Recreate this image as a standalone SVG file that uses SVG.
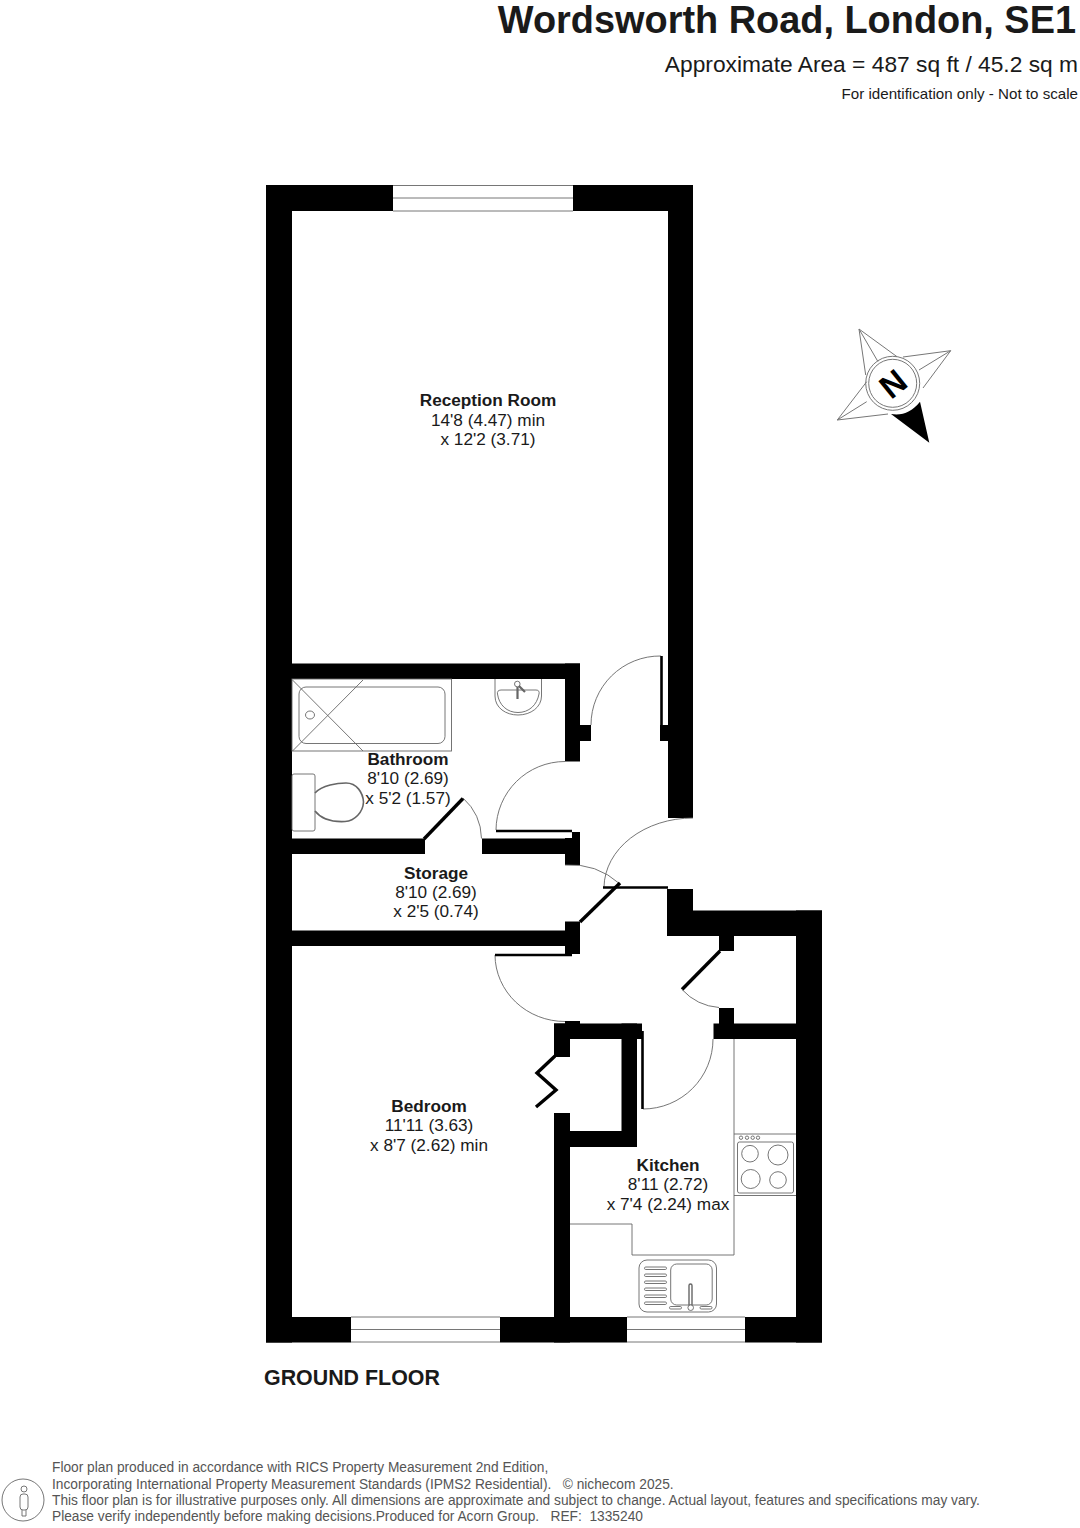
<svg xmlns="http://www.w3.org/2000/svg" width="1080" height="1528" viewBox="0 0 1080 1528">
<style>
text{font-family:"Liberation Sans",Arial,sans-serif;fill:#1a1a1a}
.l{font-size:17.2px;text-anchor:middle}
.b{font-weight:bold}
.f{font-size:13.74px;fill:#555;white-space:pre}
.t{fill:none;stroke:#666;stroke-width:0.9}
.d{fill:none;stroke:#000;stroke-width:2.6}
.j{fill:none;stroke:#000;stroke-width:3.4}
.w{fill:#000}
.g{fill:none;stroke:#777;stroke-width:1}
</style>
<rect width="1080" height="1528" fill="#fff"/>
<g id="header">
<text x="1076" y="32.500" text-anchor="end" class="b" style="font-size:37.9px">Wordsworth Road, London, SE1</text>
<text x="1078" y="72" text-anchor="end" style="font-size:22.77px">Approximate Area = 487 sq ft / 45.2 sq m</text>
<text x="1078" y="99" text-anchor="end" style="font-size:15.15px">For identification only - Not to scale</text>
</g>
<g id="walls" class="w">
<rect x="266" y="185" width="26" height="1157.500"/>
<rect x="266" y="185" width="127" height="26"/>
<rect x="573" y="185" width="120" height="26"/>
<rect x="668" y="185" width="25" height="633"/>
<rect x="292" y="663.500" width="288" height="15.500"/>
<rect x="565" y="663.500" width="15" height="98"/>
<rect x="565" y="725" width="26" height="16"/>
<rect x="660" y="725" width="8" height="16"/>
<rect x="572" y="832" width="8" height="6"/>
<rect x="292" y="838.500" width="133" height="15.500"/>
<rect x="482" y="838.500" width="98" height="15.500"/>
<rect x="565" y="838" width="15" height="27"/>
<rect x="292" y="930.500" width="288" height="15.500"/>
<rect x="565" y="921.500" width="15" height="32.500"/>
<rect x="667" y="889" width="26" height="47"/>
<rect x="667" y="910.500" width="155" height="25.500"/>
<rect x="796" y="910.500" width="26" height="432"/>
<rect x="719" y="936" width="15" height="15"/>
<rect x="719" y="1008" width="15" height="16"/>
<rect x="713.500" y="1023.500" width="83" height="15.500"/>
<rect x="554" y="1023.500" width="88" height="15.500"/>
<rect x="565" y="1021" width="15" height="3"/>
<rect x="554" y="1023.500" width="16" height="33.500"/>
<rect x="621.500" y="1023.500" width="15.500" height="123.500"/>
<rect x="554" y="1113" width="16" height="229.500"/>
<rect x="554" y="1131" width="83" height="16"/>
<rect x="266" y="1317" width="85" height="25.500"/>
<rect x="500" y="1317" width="127" height="25.500"/>
<rect x="745" y="1317" width="77" height="25.500"/>
</g>
<g id="windows" class="t">
<path d="M393 185.500H573M393 198H573M393 211H573"/>
<path d="M351 1317H500M351 1329.500H500M351 1342H500"/>
<path d="M627 1317H745M627 1329.500H745M627 1342H745"/>
</g>
<g id="doors">
<path class="t" d="M661 656A69 69 0 0 0 591 725"/>
<path class="d" d="M661.500 656V725"/>
<path class="t" d="M565 761.500A69 69 0 0 0 496 830"/>
<path class="d" d="M496 831H572"/>
<path class="t" d="M463 798A56 56 0 0 1 481.500 838.500"/>
<path class="j" d="M424 839L463 798.500"/>
<path class="t" d="M565 865A75 75 0 0 1 620 884"/>
<path class="j" d="M580 922L620 883"/>
<path class="t" d="M693 818A89 70 0 0 0 604 887"/>
<path class="d" d="M603 887.500H668"/>
<path class="j" d="M720 951L682 989.500"/>
<path class="t" d="M682 989.500A56 56 0 0 0 719 1007.500"/>
<path class="t" d="M495 955A70 67 0 0 0 565 1021.500"/>
<path class="d" d="M495 955H572"/>
<path class="t" d="M713 1039A70 70 0 0 1 643 1109"/>
<path class="d" d="M642.500 1031V1109"/>
<path class="j" d="M555 1056L537 1073L556 1090L536 1107"/>
</g>
<g id="bathroom-fixtures" class="t">
<rect x="292" y="679" width="159.500" height="72"/>
<rect x="299" y="687" width="146" height="56.500" rx="7"/>
<ellipse cx="310" cy="715" rx="4.500" ry="4"/>
<path d="M292.500 680L363 751M363 680L292.500 751"/>
<rect x="292" y="774" width="23" height="57" rx="2"/>
<path d="M315 793C322 785 338 783 346 783C357 783 363 793 363.500 802C363 812 355 821 345 821.500C335 822 322 820 315 811" stroke-width="1.600"/>
<path d="M495 679V696C495 708 506 715 518 715C531 715 541.500 707 541.500 696V679"/>
<path d="M501 690H536C539 690 539.500 692 539 694C537 705 529 712.500 518 712.500C507 712.500 499 705 497.500 694C497 692 498 690 501 690Z"/>
<circle cx="517.300" cy="684" r="2.800" fill="#fff"/>
<path d="M517.500 687V699M519 686L525 692" stroke-width="2.200"/>
</g>
<g id="kitchen-fixtures" class="t">
<path d="M734 1039V1255H632V1224H570"/>
<path d="M734 1134H796M734 1195.500H796"/>
<rect x="737.500" y="1142" width="56" height="51" rx="2"/>
<circle cx="750" cy="1153.700" r="8.300"/>
<circle cx="778" cy="1155" r="10"/>
<circle cx="750.700" cy="1179" r="9.500"/>
<circle cx="778" cy="1180" r="8.300"/>
<circle cx="741" cy="1137.700" r="1.700"/>
<circle cx="747" cy="1137.700" r="1.700"/>
<circle cx="752.700" cy="1137.700" r="1.700"/>
<circle cx="758" cy="1137.700" r="1.700"/>
<rect x="639" y="1260" width="77.500" height="52" rx="8"/>
<rect x="670.700" y="1264" width="41.500" height="41" rx="6"/>
<rect x="644.500" y="1267" width="22" height="2.500" rx="1.200"/>
<rect x="644.500" y="1274" width="22" height="2.500" rx="1.200"/>
<rect x="644.500" y="1281" width="22" height="2.500" rx="1.200"/>
<rect x="644.500" y="1288" width="22" height="2.500" rx="1.200"/>
<rect x="644.500" y="1295" width="22" height="2.500" rx="1.200"/>
<rect x="644.500" y="1302" width="22" height="2.500" rx="1.200"/>
<rect x="689" y="1284" width="3" height="22" rx="1.500" stroke-width="1.400"/>
<circle cx="690.700" cy="1307.700" r="2.800" fill="#fff"/>
<rect x="669.500" y="1306.500" width="12" height="2.500" rx="1.200"/>
<rect x="700" y="1306.500" width="12" height="2.500" rx="1.200"/>
</g>
<g id="compass">
<path class="g" d="M865.700 375L859 329L897 356.700M859 329L878 361.700M903 357L950.700 350.700L923 388M950.700 350.700L919 370M866.700 381.700L837.300 420L888 414M837.300 420L866.700 401.700"/>
<path class="w" d="M891 414L929.300 442.700L920 401.700C912 412 902 416 891 414Z"/>
<circle class="g" cx="892.700" cy="383.300" r="27"/>
<circle class="g" cx="892.700" cy="383.300" r="24"/>
<text x="892.700" y="395.300" text-anchor="middle" class="b" transform="rotate(-39 892.700 383.300)" style="font-size:33px;fill:#000">N</text>
</g>
<g id="labels">
<g id="reception"><text x="488" y="406" class="l b">Reception Room</text><text x="488" y="426" class="l">14'8 (4.47) min</text><text x="488" y="445" class="l">x 12'2 (3.71)</text></g>
<g id="bathroom"><text x="408" y="765" class="l b">Bathroom</text><text x="408" y="784" class="l">8'10 (2.69)</text><text x="408" y="804" class="l">x 5'2 (1.57)</text></g>
<g id="storage"><text x="436" y="879" class="l b">Storage</text><text x="436" y="898" class="l">8'10 (2.69)</text><text x="436" y="917" class="l">x 2'5 (0.74)</text></g>
<g id="bedroom"><text x="429" y="1112" class="l b">Bedroom</text><text x="429" y="1131" class="l">11'11 (3.63)</text><text x="429" y="1151" class="l">x 8'7 (2.62) min</text></g>
<g id="kitchen"><text x="668" y="1171" class="l b">Kitchen</text><text x="668" y="1190" class="l">8'11 (2.72)</text><text x="668" y="1210" class="l">x 7'4 (2.24) max</text></g>
</g>
<text x="264" y="1385" class="b" style="font-size:21.400px">GROUND FLOOR</text>
<g id="footer">
<circle cx="23" cy="1500" r="21" class="t"/>
<circle cx="24" cy="1489" r="3" class="t"/>
<rect x="20" y="1494" width="8" height="16" rx="3" class="t"/>
<path class="t" d="M22 1510V1516H26V1510"/>
<text x="52" y="1472" class="f">Floor plan produced in accordance with RICS Property Measurement 2nd Edition,</text>
<text x="52" y="1489" class="f">Incorporating International Property Measurement Standards (IPMS2 Residential).   © nichecom 2025.</text>
<text x="52" y="1505" class="f">This floor plan is for illustrative purposes only. All dimensions are approximate and subject to change. Actual layout, features and specifications may vary.</text>
<text x="52" y="1521" class="f">Please verify independently before making decisions.Produced for Acorn Group.   REF:  1335240</text>
</g>
</svg>
